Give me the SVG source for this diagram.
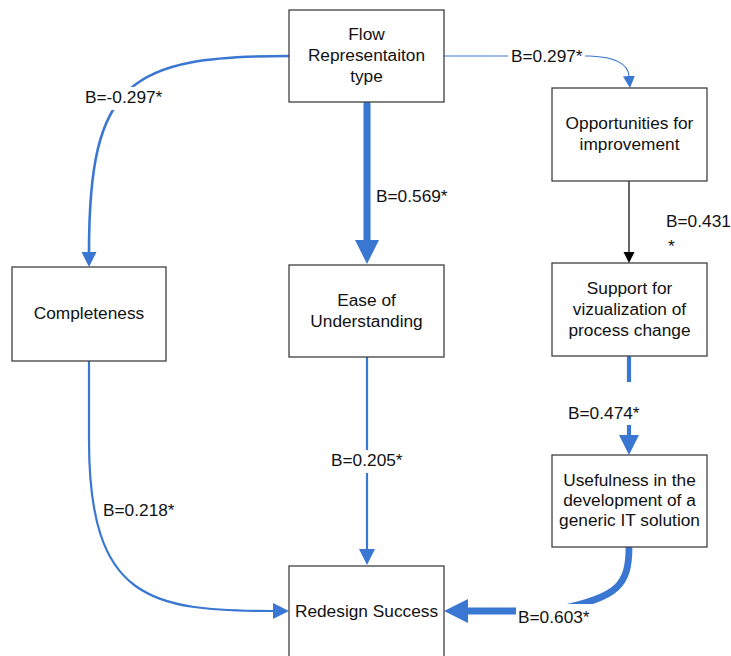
<svg xmlns="http://www.w3.org/2000/svg" width="731" height="656" viewBox="0 0 731 656">
  <style>
    .box { fill: #ffffff; stroke: #404040; stroke-width: 1.3; }
    .t { font-family: "Liberation Sans", Arial, sans-serif; font-size: 17.3px; fill: #111111; text-anchor: middle; }
    .lbl { font-family: "Liberation Sans", Arial, sans-serif; font-size: 17.3px; fill: #111111; }
    .e { fill: none; stroke: #3a77d2; }
    .bg { fill: #ffffff; }
  </style>
  <defs>
    <marker id="ah15" markerUnits="userSpaceOnUse" viewBox="0 0 10 10" refX="0" refY="5" markerWidth="15" markerHeight="15" orient="auto">
      <path d="M0,0 L10,5 L0,10 Z" fill="#3a77d2"/>
    </marker>
    <marker id="ah12" markerUnits="userSpaceOnUse" viewBox="0 0 10 10" refX="0" refY="5" markerWidth="12" markerHeight="12" orient="auto">
      <path d="M0,0 L10,5 L0,10 Z" fill="#3a77d2"/>
    </marker>
    <marker id="ah16" markerUnits="userSpaceOnUse" viewBox="0 0 10 10" refX="0" refY="5" markerWidth="16" markerHeight="17" orient="auto">
      <path d="M0,0 L10,5 L0,10 Z" fill="#3a77d2"/>
    </marker>
    <marker id="ah20" markerUnits="userSpaceOnUse" viewBox="0 0 10 10" refX="0" refY="5" markerWidth="20" markerHeight="20" orient="auto">
      <path d="M0,0 L10,5 L0,10 Z" fill="#3a77d2"/>
    </marker>
    <marker id="ah24" markerUnits="userSpaceOnUse" viewBox="0 0 10 10" refX="0" refY="5" markerWidth="24" markerHeight="24" orient="auto">
      <path d="M0,0 L10,5 L0,10 Z" fill="#3a77d2"/>
    </marker>
    <marker id="ahk" markerUnits="userSpaceOnUse" viewBox="0 0 10 10" refX="0" refY="5" markerWidth="11" markerHeight="12" orient="auto">
      <path d="M0,0 L10,5 L0,10 Z" fill="#000000"/>
    </marker>
  </defs>

  <!-- connectors -->
  <g id="connectors">
    <!-- Flow -> Completeness -->
    <path class="e" stroke-width="2.6" d="M289,56 C130,56 89,80 89,252" marker-end="url(#ah15)"/>
    <rect class="bg" x="83" y="87" width="82" height="23"/>
    <text class="lbl" x="85" y="103">B=-0.297*</text>

    <!-- Flow -> Opportunities -->
    <path class="e" stroke-width="1.1" d="M444,56 L590,56 C615,57 628,64 629,76" marker-end="url(#ah12)"/>
    <rect class="bg" x="508" y="46" width="77" height="20"/>
    <text class="lbl" x="511" y="62">B=0.297*</text>

    <!-- Flow -> Ease -->
    <path class="e" stroke-width="7" stroke-linecap="round" d="M367,104 L367,240" marker-end="url(#ah24)"/>
    <text class="lbl" x="376" y="202">B=0.569*</text>

    <!-- Opportunities -> Support -->
    <path fill="none" stroke="#000000" stroke-width="1.2" d="M629,181 L629,252" marker-end="url(#ahk)"/>
    <text class="lbl" x="666" y="227">B=0.431</text>
    <text class="lbl" x="668" y="252" font-size="12">*</text>

    <!-- Support -> Usefulness -->
    <path class="e" stroke-width="4.2" stroke-linecap="round" d="M629,357 L629,435" marker-end="url(#ah20)"/>
    <rect class="bg" x="566" y="382" width="76" height="43"/>
    <text class="lbl" x="568" y="419">B=0.474*</text>

    <!-- Usefulness -> Redesign -->
    <path class="e" stroke-width="6.8" stroke-linecap="round" d="M629,547 C629,585 618,597 560,609 L520,611 L468,611" marker-end="url(#ah24)"/>
    <rect class="bg" x="516" y="604" width="76" height="26"/>
    <text class="lbl" x="518" y="623">B=0.603*</text>

    <!-- Completeness -> Redesign -->
    <path class="e" stroke-width="2.2" d="M89,361 L89,440 C89,600 150,611 273,611" marker-end="url(#ah16)"/>
    <rect class="bg" x="101" y="500" width="76" height="19"/>
    <text class="lbl" x="103" y="516">B=0.218*</text>

    <!-- Ease -> Redesign -->
    <path class="e" stroke-width="2.2" d="M367,357 L367,549" marker-end="url(#ah16)"/>
    <rect class="bg" x="329" y="450" width="76" height="23"/>
    <text class="lbl" x="331" y="466">B=0.205*</text>
  </g>

  <!-- nodes -->
  <g id="flow">
    <rect class="box" x="289" y="10" width="155" height="92"/>
    <text class="t" x="366.5" y="40">Flow</text>
    <text class="t" x="366.5" y="61">Representaiton</text>
    <text class="t" x="366.5" y="82">type</text>
  </g>
  <g id="opportunities">
    <rect class="box" x="552" y="88" width="155" height="93"/>
    <text class="t" x="629.5" y="129">Opportunities for</text>
    <text class="t" x="629.5" y="150">improvement</text>
  </g>
  <g id="completeness">
    <rect class="box" x="12" y="267" width="154" height="94"/>
    <text class="t" x="89" y="319">Completeness</text>
  </g>
  <g id="ease">
    <rect class="box" x="289" y="265" width="155" height="92"/>
    <text class="t" x="366.5" y="306">Ease of</text>
    <text class="t" x="366.5" y="327">Understanding</text>
  </g>
  <g id="support">
    <rect class="box" x="552" y="263" width="155" height="93"/>
    <text class="t" x="629.5" y="294">Support for</text>
    <text class="t" x="629.5" y="315">vizualization of</text>
    <text class="t" x="629.5" y="336">process change</text>
  </g>
  <g id="usefulness">
    <rect class="box" x="552" y="455" width="155" height="92"/>
    <text class="t" x="629.5" y="486">Usefulness in the</text>
    <text class="t" x="629.5" y="506">development of a</text>
    <text class="t" x="629.5" y="526">generic IT solution</text>
  </g>
  <g id="redesign">
    <rect class="box" x="289" y="566" width="155" height="94"/>
    <text class="t" x="366.5" y="617">Redesign Success</text>
  </g>
</svg>
